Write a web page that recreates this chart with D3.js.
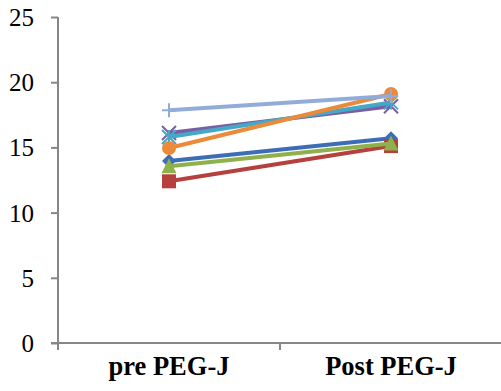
<!DOCTYPE html>
<html><head><meta charset="utf-8">
<script src="https://cdn.jsdelivr.net/npm/d3@7/dist/d3.min.js"></script>
<style>body{margin:0;background:#fff}svg{display:block}</style>
</head><body>
<svg id="c" width="501" height="391"></svg>
<script>
const categories = ["pre PEG-J", "Post PEG-J"];
const yTicks = [0, 5, 10, 15, 20, 25];
const seriesNames = ["S1", "S2", "S3", "S4", "S5", "S6", "S7"];
const seriesPre  = [13.95, 12.4, 13.55, 16.1, 15.8, 14.95, 17.85];
const seriesPost = [15.7, 15.1, 15.3, 18.15, 18.45, 19.1, 18.95];
const seriesColors = ["#3d6db4", "#b5403e", "#8fb14b", "#7a5ea3", "#44a9c6", "#ea8a3a", "#91acd9"];
const seriesMarkers = ["diamond", "square", "triangle", "x", "star", "circle", "plus"];

const svg = d3.select("#c");
const m = {left: 58, right: 0, top: 17, bottom: 48};
const W = 501, H = 391;
const x = d3.scaleBand().domain(categories).range([m.left, W + 1]).padding(0);
const y = d3.scaleLinear().domain([0, 25]).range([H - m.bottom, m.top]);

// y axis
const yAx = svg.append("g").attr("transform", `translate(${m.left},0)`)
  .call(d3.axisLeft(y).tickValues(yTicks).tickSize(7).tickPadding(17).tickFormat(d3.format("d")));
yAx.select(".domain").attr("stroke", "#868686").attr("stroke-width", 2).attr("d", `M-0,${y(25)}V${y(0)+7}`);
yAx.selectAll(".tick line").attr("stroke", "#868686").attr("stroke-width", 2);
yAx.selectAll("text").attr("font-family", "'Liberation Serif', 'Times New Roman', serif").attr("font-size", 25).attr("fill", "#000").attr("dy", "0.34em");

// x axis
const xAx = svg.append("g").attr("transform", `translate(0,${y(0)})`);
xAx.append("line").attr("x1", m.left - 7).attr("x2", W).attr("y1", 0).attr("y2", 0).attr("stroke", "#868686").attr("stroke-width", 2);
const bounds = categories.map(c => x(c)).concat([x(categories[1]) + x.bandwidth()]);
xAx.selectAll("line.t").data(bounds).enter().append("line")
  .attr("x1", d => d).attr("x2", d => d).attr("y1", 0).attr("y2", 7)
  .attr("stroke", "#868686").attr("stroke-width", 2);
xAx.selectAll("text").data(categories).enter().append("text")
  .attr("x", d => x(d) + x.bandwidth() / 2).attr("y", 32)
  .attr("text-anchor", "middle").attr("font-family", "'Liberation Serif', 'Times New Roman', serif")
  .attr("font-weight", "bold").attr("font-size", 26.5).attr("fill", "#000").text(d => d);

const cx = c => x(c) + x.bandwidth() / 2;
const g = svg.append("g");
function marker(sel, type, color) {
  const s = 7;
  if (type === "diamond") sel.append("path").attr("d", `M0,${-s}L${s},0L0,${s}L${-s},0Z`).attr("fill", color);
  else if (type === "square") sel.append("rect").attr("x", -s).attr("y", -s).attr("width", 2*s).attr("height", 2*s).attr("fill", color);
  else if (type === "triangle") sel.append("path").attr("d", `M0,${-s-1}L${s+0.5},${s}L${-s-0.5},${s}Z`).attr("fill", color);
  else if (type === "circle") sel.append("circle").attr("r", s).attr("fill", color);
  else if (type === "x") sel.append("path").attr("d", `M${-s},${-s}L${s},${s}M${s},${-s}L${-s},${s}`).attr("stroke", color).attr("stroke-width", 2);
  else if (type === "star") sel.append("path").attr("d", `M${-s},${-s}L${s},${s}M${s},${-s}L${-s},${s}M0,${-s}V${s}`).attr("stroke", color).attr("stroke-width", 2);
  else if (type === "plus") sel.append("path").attr("d", `M${-s},0H${s}M0,${-s}V${s}`).attr("stroke", color).attr("stroke-width", 2);
}
seriesNames.forEach((n, i) => {
  const pts = [[cx(categories[0]), y(seriesPre[i])], [cx(categories[1]), y(seriesPost[i])]];
  g.append("path").attr("d", d3.line()(pts)).attr("stroke", seriesColors[i]).attr("stroke-width", 4).attr("fill", "none");
  pts.forEach(p => {
    const mg = g.append("g").attr("transform", `translate(${p[0]},${p[1]})`);
    marker(mg, seriesMarkers[i], seriesColors[i]);
  });
});
</script>
</body></html>
